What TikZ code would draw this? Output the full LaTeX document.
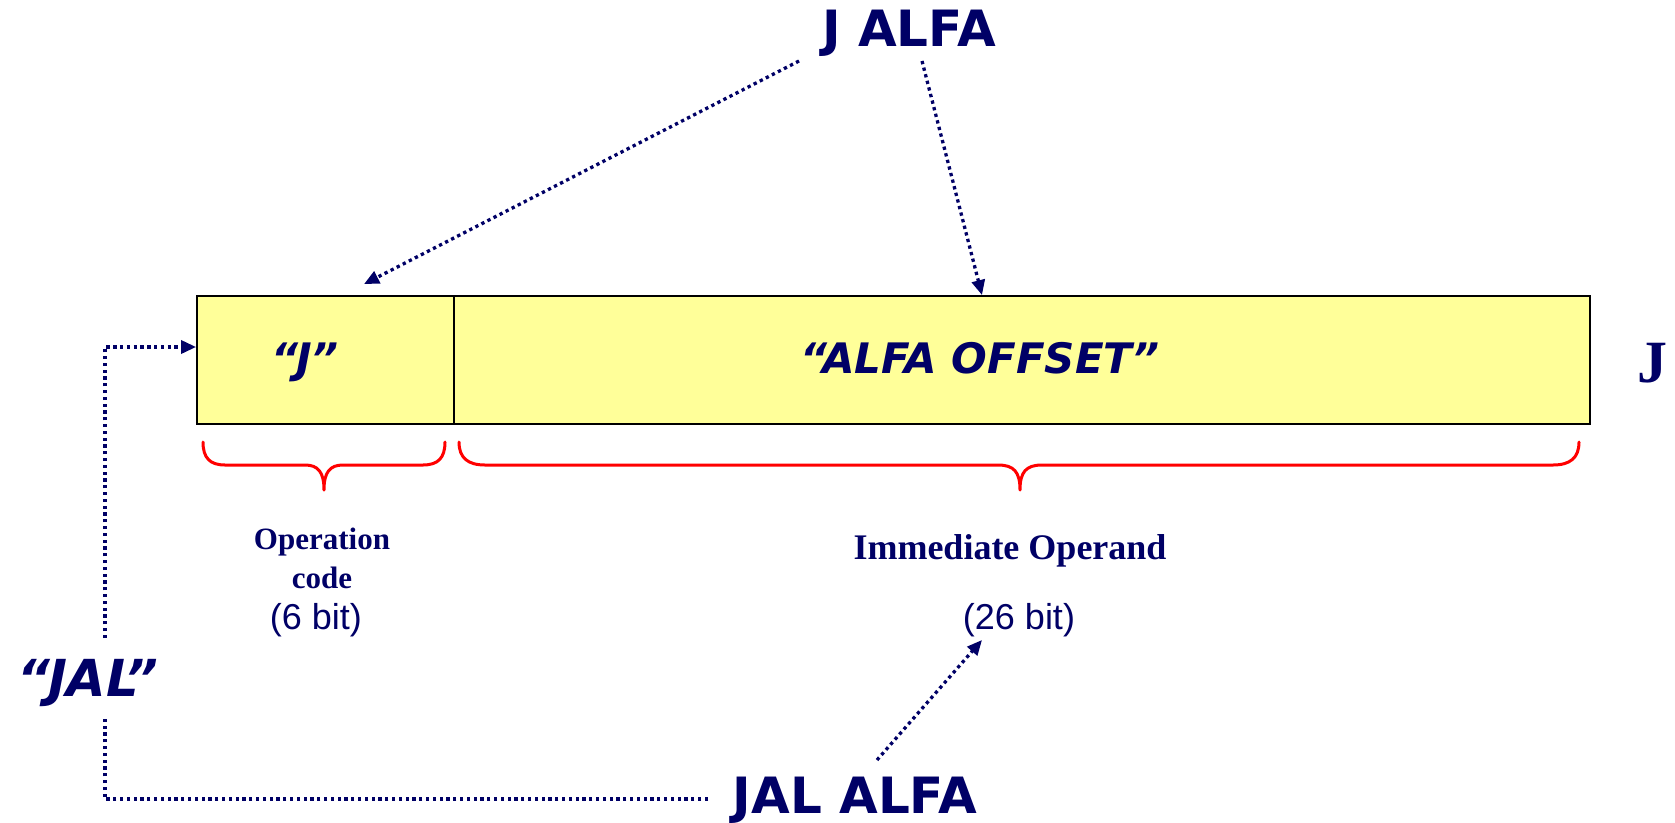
\documentclass[tikz,border=0pt]{standalone}
\usepackage{fontspec}
\setmainfont{Liberation Serif}
\newfontfamily\verd{DejaVu Sans}
\newfontfamily\arialf{Liberation Sans}
\usetikzlibrary{arrows.meta,calc}
\definecolor{navy}{HTML}{000066}
\definecolor{fieldfill}{HTML}{FFFF99}
\definecolor{bracered}{HTML}{FF0000}
\begin{document}
\begin{tikzpicture}[x=1pt,y=-1pt,
  dotline/.style={navy, line width=3.3pt, dash pattern=on 3.3pt off 3.5pt},
  tipped/.style={-{Triangle[length=15pt,width=13pt]}},
  field/.style={draw=black, line width=1.8pt, fill=fieldfill, inner sep=0pt, minimum height=128pt},
  brace/.style={bracered, line width=3pt, line cap=round, line join=round},
  instr/.style={navy, font=\verd\bfseries\fontsize{50}{58}\selectfont, anchor=base, inner sep=0pt},
  fieldtxt/.style={navy, font=\verd\bfseries\itshape\fontsize{42}{50}\selectfont, anchor=base, inner sep=0pt},
  captxt/.style={navy, font=\bfseries\fontsize{#1}{#1}\selectfont, anchor=base, inner sep=0pt},
  bittxt/.style={navy, font=\arialf\fontsize{36}{40}\selectfont, anchor=base, inner sep=0pt}
]
\useasboundingbox (0,0) rectangle (1675,822);

% instruction word: opcode field and offset field
\node[field, minimum width=257pt] (opbox) at (325.5,360) {};
\node[field, minimum width=1136pt] (offbox) at (1022,360) {};
\node[fieldtxt] (jtxt) at (305,373) {“J”};
\node[fieldtxt] (offtxt) at (980,373) {“ALFA OFFSET”};
\node[captxt=60] (jlabel) at (1652,382) {J};

% braces under the fields
\draw[brace] (203,442) .. controls (203,458) and (210,465) .. (225,465) -- (305,465)
  .. controls (318,465) and (324,472) .. (324,490)
  .. controls (324,472) and (330,465) .. (343,465) -- (423,465)
  .. controls (438,465) and (445,458) .. (445,442);
\draw[brace] (459,442) .. controls (459,458) and (468,465) .. (485,465) -- (998,465)
  .. controls (1014,465) and (1020,472) .. (1020,490)
  .. controls (1020,472) and (1026,465) .. (1042,465) -- (1553,465)
  .. controls (1570,465) and (1579,458) .. (1579,442);

% field captions
\node[captxt=31] (opname1) at (322,549) {Operation};
\node[captxt=31] (opname2) at (322,588) {code};
\node[bittxt] (op6) at (316,629) {(6 bit)};
\node[captxt=36] (immname) at (1010,559) {Immediate Operand};
\node[bittxt] (imm26) at (1019,629) {(26 bit)};

% instructions
\node[instr] (jalfa) at (909,46) {J ALFA};
\node[instr] (jalalfa) at (855,813) {JAL ALFA};
\node[instr, font=\verd\bfseries\itshape\fontsize{51}{58}\selectfont] (jal) at (88,696) {“JAL”};

% connectors
\draw[dotline,tipped] ($(jalfa.base)+(-110,15)$) -- ($(opbox.north)+(38.5,-11)$);
\draw[dotline,tipped] ($(jalfa.base)+(13,15)$) -- ($(offbox.north)+(-40,0)$);
\draw[dotline,tipped] ($(jalalfa.base)+(22,-53)$) -- ($(imm26.base)+(-37,11)$);
\draw[dotline] ($(jalalfa.base)+(-147,-14)$) -| ($(jal.base)+(17,22)$);
\draw[dotline,tipped] ($(jal.base)+(17,-58)$) |- ($(opbox.west)+(0,-13)$);
\end{tikzpicture}
\end{document}
